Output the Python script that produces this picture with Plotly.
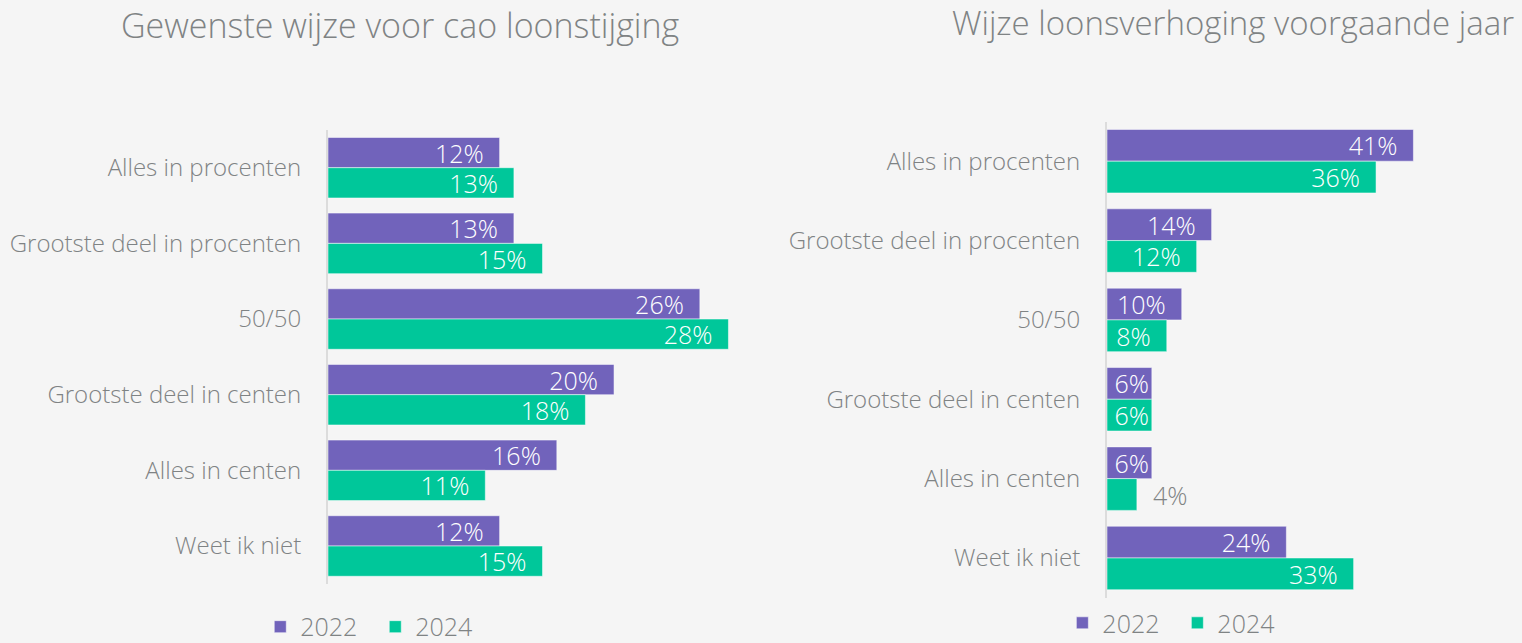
import plotly.graph_objects as go

categories = ["Alles in procenten", "Grootste deel in procenten", "50/50",
              "Grootste deel in centen", "Alles in centen", "Weet ik niet"]

gewenst_2022 = [12, 13, 26, 20, 16, 12]
gewenst_2024 = [13, 15, 28, 18, 11, 15]

voorgaand_2022 = [41, 14, 10, 6, 6, 24]
voorgaand_2024 = [36, 12, 8, 6, 4, 33]

PURPLE = "#7163BB"
GREEN = "#00C79A"
GREY = "#7F8384"
BG = "#F5F5F5"
FONT = "Open Sans"
W = 300
PAD = "\u00a0\u00a0"


def labels(vals):
    # tiny bars: label outside; narrow bars: label spills over the end
    pos = ["outside" if v < 5 else "inside" for v in vals]
    txt = [(PAD + f"{v}%") if v < 8 else (f"{v}%" + PAD) for v in vals]
    return pos, txt


fig = go.Figure()

series = [
    ("2022", gewenst_2022, PURPLE, "x", "y", "legend"),
    ("2024", gewenst_2024, GREEN, "x", "y", "legend"),
    ("2022", voorgaand_2022, PURPLE, "x2", "y2", "legend2"),
    ("2024", voorgaand_2024, GREEN, "x2", "y2", "legend2"),
]
for name, vals, color, xa, ya, lg in series:
    pos, txt = labels(vals)
    fig.add_trace(go.Bar(
        y=categories, x=vals, orientation="h", name=name,
        marker=dict(color=color, line=dict(color="rgba(255,255,255,0.5)", width=1)),
        text=txt, textposition=pos, insidetextanchor="end",
        constraintext="none", cliponaxis=False,
        insidetextfont=dict(color="white", size=25, family=FONT, weight=W),
        outsidetextfont=dict(color=GREY, size=25, family=FONT, weight=W),
        xaxis=xa, yaxis=ya, legend=lg, hoverinfo="skip",
    ))

axis_y = dict(autorange="reversed", showline=True, linecolor="#DCDCDC", linewidth=2,
              ticks="", showgrid=False, ticklabelstandoff=20,
              tickfont=dict(size=24, color=GREY, family=FONT, weight=W))
axis_x = dict(visible=False, showgrid=False, zeroline=False)
legend_font = dict(size=25, color=GREY, family=FONT, weight=W)
title_font = dict(size=34, color=GREY, family=FONT, weight=W)

fig.update_layout(
    width=1522, height=643,
    paper_bgcolor=BG, plot_bgcolor=BG,
    margin=dict(l=0, r=0, t=0, b=0, autoexpand=False),
    barmode="group", bargap=0.2, bargroupgap=0,
    font=dict(family=FONT, color=GREY),
    xaxis=dict(axis_x, domain=[328 / 1522, 0.4974], range=[0, 30], anchor="y"),
    yaxis=dict(axis_y, domain=[0.092, 0.798], anchor="x"),
    xaxis2=dict(axis_x, domain=[1107 / 1522, 0.9974], range=[0, 55], anchor="y2"),
    yaxis2=dict(axis_y, domain=[0.0705, 0.811], anchor="x2"),
    legend=dict(orientation="h", x=0.171, y=0.025, xanchor="left", yanchor="middle",
                font=legend_font, bgcolor="rgba(0,0,0,0)", entrywidth=70),
    legend2=dict(orientation="h", x=0.698, y=0.031, xanchor="left", yanchor="middle",
                 font=legend_font, bgcolor="rgba(0,0,0,0)", entrywidth=70),
    annotations=[
        dict(text="Gewenste wijze voor cao loonstijging", x=400 / 1522, y=1 - 25 / 643,
             xref="paper", yref="paper", showarrow=False, xanchor="center", yanchor="middle",
             font=title_font),
        dict(text="Wijze loonsverhoging voorgaande jaar", x=1516 / 1522, y=1 - 22 / 643,
             xref="paper", yref="paper", showarrow=False, xanchor="right", yanchor="middle",
             font=dict(title_font, size=33)),
    ],
)

fig.write_html("out.html", config={"displayModeBar": False},
               post_script="document.body.style.margin='0';")
